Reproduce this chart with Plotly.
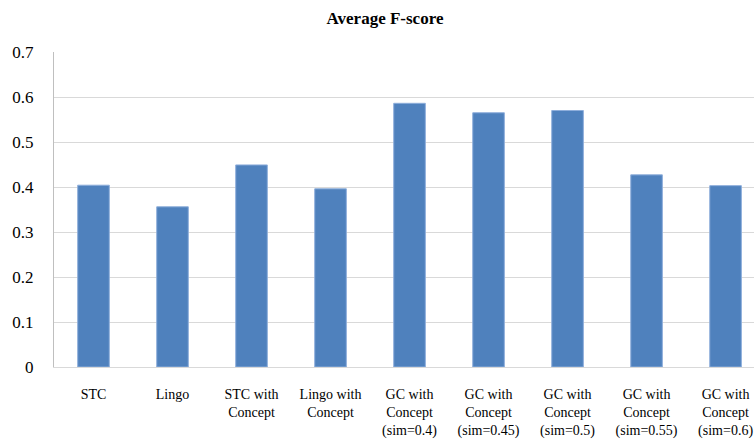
import plotly.graph_objects as go

# Average F-score per clustering method
categories = [
    "STC",
    "Lingo",
    "STC with<br>Concept",
    "Lingo with<br>Concept",
    "GC with<br>Concept<br>(sim=0.4)",
    "GC with<br>Concept<br>(sim=0.45)",
    "GC with<br>Concept<br>(sim=0.5)",
    "GC with<br>Concept<br>(sim=0.55)",
    "GC with<br>Concept<br>(sim=0.6)",
]
f_scores = [0.404, 0.356, 0.449, 0.396, 0.586, 0.565, 0.570, 0.427, 0.403]
y_ticks = [0, 0.1, 0.2, 0.3, 0.4, 0.5, 0.6, 0.7]
y_tick_text = ["0", "0.1", "0.2", "0.3", "0.4", "0.5", "0.6", "0.7"]

serif = "Liberation Serif"

fig = go.Figure(
    go.Bar(
        x=list(range(len(categories))),
        y=f_scores,
        width=0.4,
        marker=dict(color="#4F81BD", line=dict(color="#8EAEDB", width=1)),
        hoverinfo="skip",
    )
)

fig.update_layout(
    width=754,
    height=443,
    margin=dict(l=54, r=0, t=52, b=76),
    paper_bgcolor="white",
    plot_bgcolor="white",
    showlegend=False,
    font=dict(family=serif, size=14, color="#000000"),
    title=dict(
        text="<b>Average F-score</b>",
        font=dict(family=serif, size=17, color="#000000"),
        x=385 / 754,
        xanchor="center",
        y=1 - 18 / 443,
        yanchor="middle",
    ),
)

fig.update_xaxes(
    tickmode="array",
    tickvals=list(range(len(categories))),
    ticktext=categories,
    range=[-0.5, 8.36],
    showgrid=False,
    showline=True,
    linecolor="#D9D9D9",
    linewidth=1,
    ticks="",
    tickangle=0,
    ticklabelstandoff=14,
    tickfont=dict(family=serif, size=14),
    zeroline=False,
)

fig.update_yaxes(
    range=[0, 0.7],
    tickmode="array",
    tickvals=y_ticks,
    ticktext=y_tick_text,
    showgrid=True,
    gridcolor="#D9D9D9",
    gridwidth=1,
    showline=True,
    linecolor="#BFBFBF",
    linewidth=1,
    zeroline=False,
    ticks="",
    ticklabelstandoff=16,
    tickfont=dict(family=serif, size=17),
)

fig.write_html("out.html")
